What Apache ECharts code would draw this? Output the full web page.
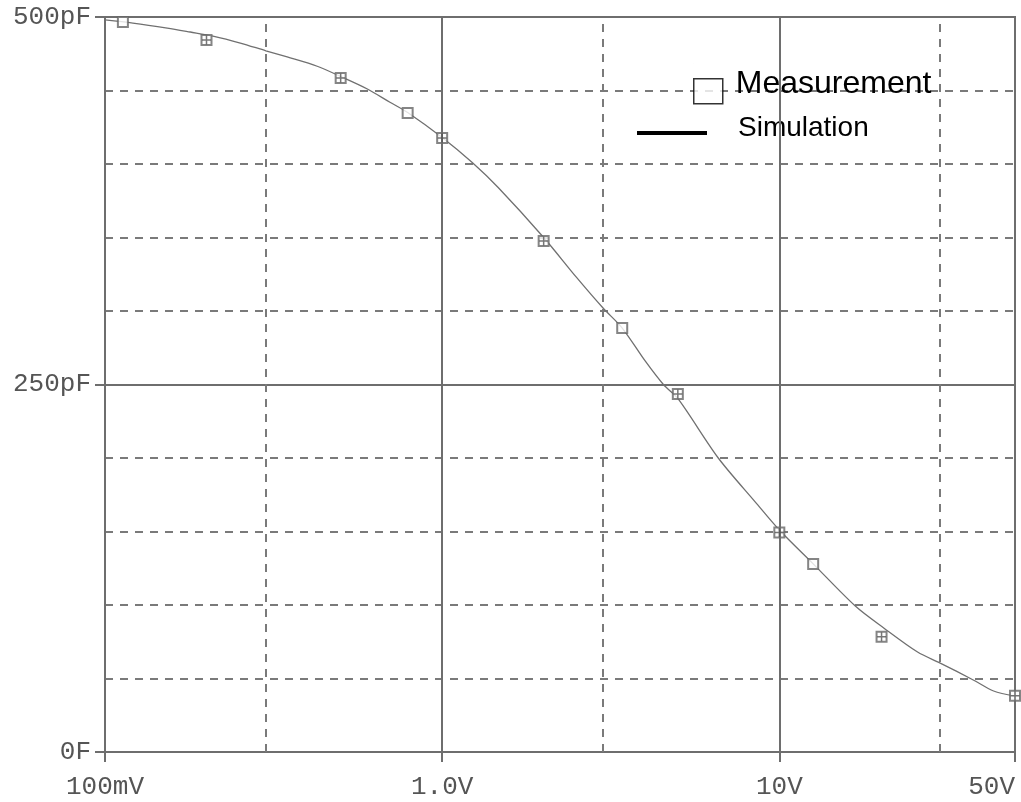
<!DOCTYPE html>
<html>
<head>
<meta charset="utf-8">
<script src="https://cdn.jsdelivr.net/npm/echarts@6/dist/echarts.min.js"></script>
<style>html,body{margin:0;padding:0;background:#fff;}#c{width:1021px;height:802px;}</style>
</head>
<body>
<div id="c"></div>
<script>
// Measurement points (voltage in V, capacitance in pF)
var measV = [0.113, 0.2, 0.5, 0.79, 1.0, 2.0, 3.42, 5.0, 10, 12.6, 20.1, 50];
var measC = [496.6, 484.4, 458.5, 434.7, 417.7, 347.6, 288.4, 243.5, 149.3, 127.9, 78.4, 38.3];
// measurement points drawn with an inner cross in the original plot
var measCrossed = [false, true, true, false, true, true, false, true, true, false, true, true];
// Simulation curve samples
var simV = [0.1, 0.121, 0.153, 0.179, 0.209, 0.252, 0.3, 0.347, 0.426, 0.5, 0.6, 0.7, 0.79, 1.0, 1.228, 1.466, 2.0, 2.5, 3.0, 3.42, 4.0, 4.53, 5.0, 6.59, 8.49, 10, 12.6, 16.8, 20.4, 25.7, 30, 37.6, 43.2, 50];
var simC = [498, 495.9, 492.5, 489.8, 487, 482.3, 477, 472.8, 466.5, 459.5, 451, 442, 435, 418, 401, 384, 350, 323, 302, 288.4, 266, 250, 240.5, 200, 170, 151, 128, 99.3, 84.4, 68, 60.5, 49, 41.5, 38];
// axis ticks and labels
var xTickValues = [0.1, 1, 10, 50];
var xTickLabels = ['100mV', '1.0V', '10V', '50V'];
var yTickValues = [0, 250, 500];
var yTickLabels = ['0F', '250pF', '500pF'];
// grid lines
var xSolidGrid = [1, 10];
var xDashedGrid = [0.3, 3, 30];

var GRAY = '#6e6e6e';
var DASH = [8, 7];

function nearestLabel(v, vals, labels) {
  var best = 0, bd = Infinity;
  for (var i = 0; i < vals.length; i++) {
    var d = vals[i] === 0 ? Math.abs(v) : Math.abs(Math.log(Math.max(v, 1e-9)) - Math.log(vals[i]));
    if (d < bd) { bd = d; best = i; }
  }
  return labels[best];
}

var measData = measV.map(function (v, i) { return [v, measC[i]]; });
var crossData = measV.map(function (v, i) { return measCrossed[i] ? [v, measC[i]] : null; }).filter(Boolean);
var simData = simV.map(function (v, i) { return [v, simC[i]]; });

var gridLines = [];
xSolidGrid.forEach(function (v) { gridLines.push({ xAxis: v, lineStyle: { type: 'solid', color: GRAY, width: 2 } }); });
xDashedGrid.forEach(function (v) { gridLines.push({ xAxis: v, lineStyle: { type: DASH, color: '#7a7a7a', width: 2 } }); });

var chart = echarts.init(document.getElementById('c'), null, { renderer: 'canvas' });
chart.setOption({
  animation: false,
  backgroundColor: '#fff',
  grid: { left: 105, right: 6, top: 17, bottom: 50, show: true, borderColor: GRAY, borderWidth: 2, containLabel: false },
  legend: [
    {
      data: ['Measurement'], left: 693, top: 63, padding: 0,
      icon: 'path://M0,-15L0.01,-15M0,0H29V25H0Z', itemWidth: 29, itemHeight: 40,
      itemStyle: { color: '#fff', borderColor: '#000', borderWidth: 1.5 },
      textStyle: { fontFamily: 'Liberation Sans', fontSize: 32, color: '#000', lineHeight: 32, padding: [0, 0, 0, 8] },
      selectedMode: false
    },
    {
      data: ['Simulation'], left: 637, top: 114, padding: 0,
      icon: 'path://M0,-10L0.01,-10M0,0H70V4H0Z', itemWidth: 70, itemHeight: 14,
      itemStyle: { color: '#000', borderWidth: 0 },
      textStyle: { fontFamily: 'Liberation Sans', fontSize: 28, color: '#000', lineHeight: 28, padding: [0, 0, 0, 26] },
      selectedMode: false
    }
  ],
  xAxis: {
    type: 'log', logBase: 10, min: 0.1, max: 50,
    axisLine: { show: true, lineStyle: { color: GRAY, width: 2 } },
    axisTick: { show: true, inside: false, length: 10, lineStyle: { color: GRAY, width: 2 } },
    splitLine: { show: false },
    minorTick: { show: false },
    axisLabel: {
      margin: 22, fontFamily: 'Liberation Mono', fontSize: 26, color: '#555',
      alignMaxLabel: 'right', showMaxLabel: true, showMinLabel: true,
      formatter: function (v) { return nearestLabel(v, xTickValues, xTickLabels); }
    }
  },
  yAxis: {
    type: 'value', min: 0, max: 500, interval: 250,
    axisLine: { show: true, lineStyle: { color: GRAY, width: 2 } },
    axisTick: { show: true, inside: false, length: 10, lineStyle: { color: GRAY, width: 2 } },
    splitLine: { show: true, lineStyle: { color: GRAY, width: 2, type: 'solid' } },
    minorTick: { show: false, splitNumber: 5 },
    minorSplitLine: { show: true, lineStyle: { color: '#7a7a7a', width: 2, type: DASH } },
    axisLabel: {
      margin: 14, fontFamily: 'Liberation Mono', fontSize: 26, color: '#555',
      formatter: function (v) { return nearestLabel(v, yTickValues, yTickLabels); }
    }
  },
  series: [
    {
      name: 'grid', type: 'line', data: [], z: 1, silent: true,
      markLine: { silent: true, symbol: ['none', 'none'], label: { show: false }, data: gridLines, animation: false }
    },
    {
      name: 'Simulation', type: 'line', data: simData, z: 3,
      smooth: 0.3, showSymbol: false, symbol: 'none',
      lineStyle: { color: '#707070', width: 1.3 }
    },
    {
      name: 'Measurement', type: 'scatter', data: measData, z: 4,
      symbol: 'rect', symbolSize: 10,
      itemStyle: { color: '#fff', borderColor: '#666', borderWidth: 2 }
    },
    {
      name: 'cross', type: 'scatter', data: crossData, z: 5, silent: true,
      symbol: 'path://M0,5H10M5,0V10', symbolSize: 9,
      itemStyle: { color: 'rgba(0,0,0,0)', borderColor: '#555', borderWidth: 1.5 }
    }
  ]
});
</script>
</body>
</html>
